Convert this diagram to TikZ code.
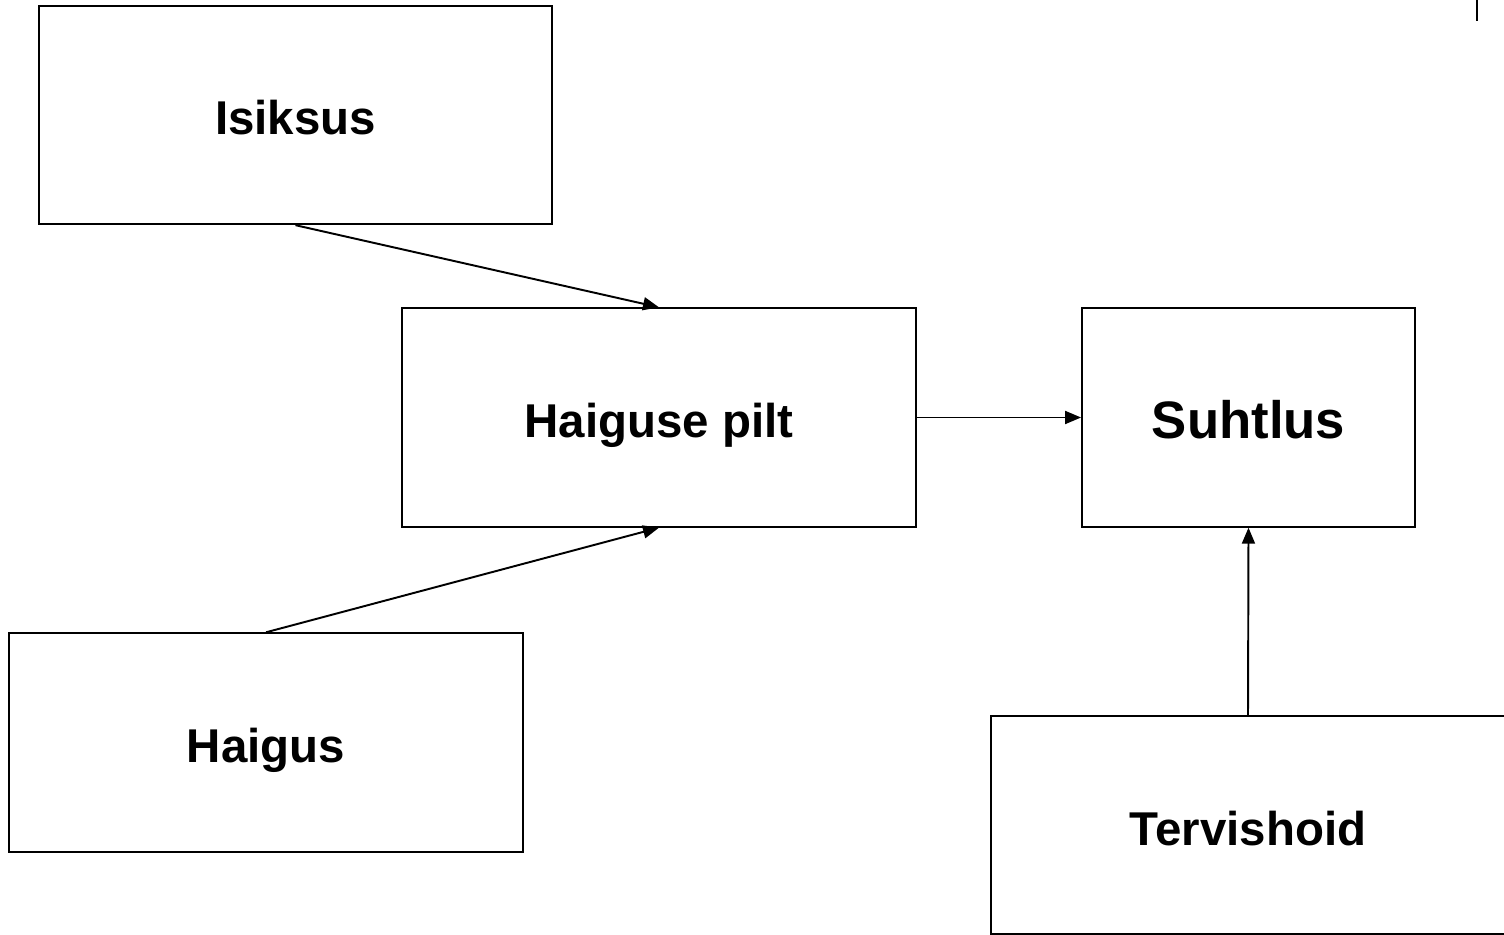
\documentclass[tikz,border=0pt]{standalone}
\usepackage{fontspec}
\setmainfont{Liberation Sans}
\usetikzlibrary{arrows.meta}

\begin{document}
\begin{tikzpicture}[x=0.02cm, y=-0.02cm,
    box/.style={draw, line width=1.1pt, minimum width=10.28cm, minimum height=4.37cm,
      text height=1cm, text depth=0.2cm, font=\fontsize{27}{32}\selectfont\bfseries},
    arr/.style={line width=1.1pt, -{Triangle[length=0.32cm, width=0.26cm]}}]
    \useasboundingbox (0, 0) rectangle (1504, 935);

    \node[box] (Isiksus) at (295.5, 115) {Isiksus};
    \node[box] (Pilt) at (659, 417.5) {Haiguse pilt};
    \node[box, minimum width=6.66cm, text height=1.06cm,
      font=\fontsize{30}{36}\selectfont\bfseries] (Suhtlus) at (1248.5, 417.5) {Suhtlus};
    \node[box] (Haigus) at (266, 742.5) {Haigus};
    \node[box] (Tervis) at (1248, 825) {Tervishoid};

    \draw[arr] (Isiksus.south) -- (Pilt.north);
    \draw[arr] (Haigus.north) -- (Pilt.south);
    \draw[arr] (Pilt.east) -- (Suhtlus.west);
    \draw[arr] (Tervis.north) -- (Suhtlus.south);

    % stray mark, top right
    \draw[line width=1.1pt] (1477, 0) -- (1477, 21);
  \end{tikzpicture}
\end{document}
